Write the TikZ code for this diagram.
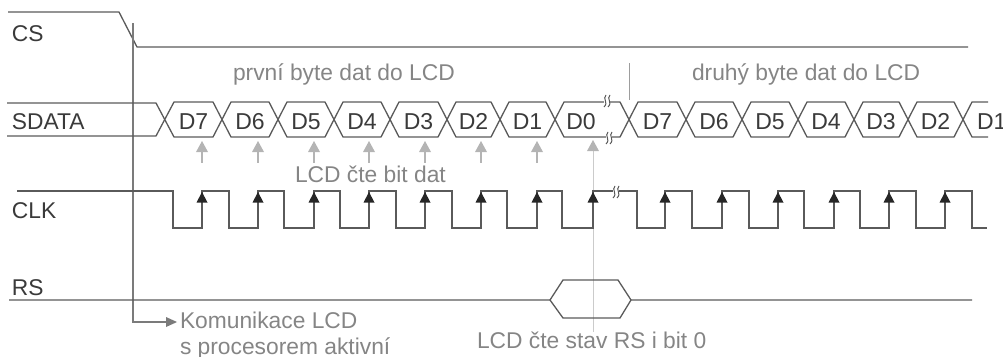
\documentclass[tikz,border=0pt]{standalone}
\usepackage{fontspec}
\setmainfont{Liberation Sans}
\definecolor{sig}{HTML}{5A5A5A}
\definecolor{darktxt}{HTML}{3A3A3A}
\definecolor{graytxt}{HTML}{858585}
\definecolor{arrgray}{HTML}{B4B4B4}
\tikzset{
  sigline/.style={draw=sig,line width=1.3pt,line join=miter},
  guide/.style={draw=sig!80,line width=1.1pt},
  lab/.style={anchor=base west,inner sep=0pt,outer sep=0pt,text=darktxt,font=\fontsize{22.8}{26}\selectfont},
  note/.style={anchor=base west,inner sep=0pt,outer sep=0pt,text=graytxt,font=\fontsize{22.8}{26}\selectfont},
  bitlab/.style={anchor=base,inner sep=0pt,outer sep=0pt,text=darktxt,font=\fontsize{23}{26}\selectfont},
}
\newcommand{\brkmark}[2]{%
  \fill[white] (#1-3,#2-3) rectangle (#1+3,#2+3);
  \draw[sig,line width=1pt] (#1-1,#2-6) .. controls (#1-5,#2-2) and (#1+2,#2+1) .. (#1-3,#2+6);
  \draw[sig,line width=1pt] (#1+3,#2-6) .. controls (#1-1,#2-2) and (#1+6,#2+1) .. (#1+1,#2+6);
}
\begin{document}
\begin{tikzpicture}[x=1pt,y=-1pt]
\useasboundingbox (0,0) rectangle (1003,356);
% CS
\draw[sigline] (8,12) -- (119,12) -- (137,47) -- (968,47);
\node[lab] (cs) at (12,41) {CS};
% guide
\coordinate (gt) at (133,23);
\coordinate (gb) at (133,322);
\draw[guide] (gt) -- (gb) -- (166,322);
\fill[sig!80] (177,322) -- (166,317) -- (166,327) -- cycle;
% notes
\node[note] (n1) at (233,80) {první byte dat do LCD};
\node[note] (n2) at (692,80) {druhý byte dat do LCD};
\draw[draw=graytxt!80,line width=1pt] (629,63) -- (629,100);
% SDATA
\node[lab] (sd) at (12,129) {SDATA};
\draw[sigline] (7,103) -- (156,103) -- (174,137) -- (213,137) -- (231,102) -- (269,102) -- (287,137) -- (325,137) -- (343,102) -- (381,102) -- (399,137) -- (438,137) -- (456,102) -- (491,102) -- (509,137) -- (546,137) -- (564,102) -- (620,102) -- (638,137) -- (677,137) -- (695,102) -- (733,102) -- (751,137) -- (789,137) -- (807,102) -- (845,102) -- (863,137) -- (899,137) -- (917,102) -- (954,102) -- (972,137) -- (988,137);
\draw[sigline] (7,136) -- (156,136) -- (174,102) -- (213,102) -- (231,137) -- (269,137) -- (287,102) -- (325,102) -- (343,137) -- (381,137) -- (399,102) -- (438,102) -- (456,137) -- (491,137) -- (509,102) -- (546,102) -- (564,137) -- (620,137) -- (638,102) -- (677,102) -- (695,137) -- (733,137) -- (751,102) -- (789,102) -- (807,137) -- (845,137) -- (863,102) -- (899,102) -- (917,137) -- (954,137) -- (972,102) -- (988,102);
\brkmark{607}{101}
\brkmark{609}{138}
\foreach \x/\t in {193.5/D7,250/D6,306/D5,362/D4,418.5/D3,473.5/D2,527.5/D1,581/D0,657.5/D7,714/D6,770/D5,826/D4,881/D3,935.5/D2}
  \node[bitlab] at (\x,129) {\t};
\node[bitlab,anchor=base west] (dlast) at (977,129) {D1};
% read arrows
\foreach \x in {202,258,314,369,425,481,537} {
  \draw[draw=arrgray,line width=1.1pt] (\x,151) -- (\x,163);
  \fill[arrgray] (\x,141) -- (\x-6,152) -- (\x+6,152) -- cycle;
}
\draw[draw=arrgray!70,line width=1pt] (593,151) -- (593,332);
\fill[arrgray] (593,140) -- (587,151) -- (599,151) -- cycle;
\node[note] (n3) at (295,182) {LCD čte bit dat};
% CLK
\node[lab] (ck) at (12,218) {CLK};
\draw[sigline] (17,191) -- (173,191) -- (173,228) -- (202,228) -- (202,191) -- (229,191) -- (229,228) -- (258,228) -- (258,191) -- (284,191) -- (284,228) -- (314,228) -- (314,191) -- (340,191) -- (340,228) -- (369,228) -- (369,191) -- (396,191) -- (396,228) -- (425,228) -- (425,191) -- (452,191) -- (452,228) -- (481,228) -- (481,191) -- (507,191) -- (507,228) -- (537,228) -- (537,191) -- (562,191) -- (562,228) -- (593,228) -- (593,191) -- (637,191) -- (637,228) -- (665,228) -- (665,191) -- (692,191) -- (692,228) -- (722,228) -- (722,191) -- (749,191) -- (749,228) -- (778,228) -- (778,191) -- (804,191) -- (804,228) -- (834,228) -- (834,191) -- (860,191) -- (860,228) -- (889,228) -- (889,191) -- (916,191) -- (916,228) -- (945,228) -- (945,191) -- (972,191) -- (972,228) -- (987,228);
\brkmark{616}{192}
\foreach \x in {202,258,314,369,425,481,537,593,665,722,778,834,889,945}
  \fill[black!85] (\x,192) -- (\x-5.5,202.5) -- (\x+5.5,202.5) -- cycle;
% RS
\node[lab] (rs) at (12,295) {RS};
\draw[sigline] (9,300) -- (550,300) -- (563,280) -- (618,280) -- (631,300) -- (972,300);
\draw[sigline] (550,300) -- (563,318) -- (620,318) -- (631,300);
% bottom notes
\node[note] (k1) at (180,328) {Komunikace LCD};
\node[note] (k2) at (180,354) {s procesorem aktivní};
\node[note] (k3) at (477,348) {LCD čte stav RS i bit 0};
\end{tikzpicture}
\end{document}
